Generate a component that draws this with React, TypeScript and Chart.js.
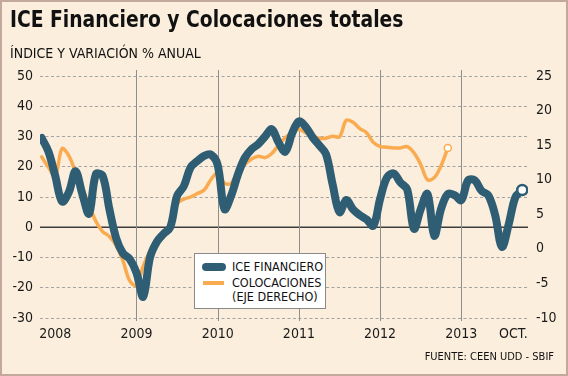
import React, { useEffect, useRef } from "react";
import { Chart, registerables } from "chart.js";

Chart.register(...registerables);

// Month index: 0 = Jan 2008. Series start in Nov 2007.
const startMonth = -2;

// ICE Financiero (índice, eje izquierdo)
const iceFinanciero = [
  29.5, 25, 17, 8.5, 11.5, 18.5, 11, 4.5, 17.5, 17, 6, -3.6, -8.6, -10.5, -15, -23,
  -10, -4.9, -2.2, 0, 10.3, 13.6, 19.8, 21.9, 23.6, 24, 20.6, 6, 10.5, 17.5, 22.9,
  25.8, 27.5, 30, 32.4, 28, 25, 31, 35, 33.2, 29.8, 27.1, 24.2, 14, 5, 9, 5.9, 4,
  2.6, 0.5, 9.4, 16.4, 17.8, 14.8, 12.5, -0.5, 6, 11, -2.8, 6, 11, 10.6, 9, 15.5,
  15.5, 12, 10.5, 4, -6.5, 1, 10, 12.3,
];

// Colocaciones totales (variación % anual, eje derecho)
const colocaciones = [
  13.3, 11.8, 10.5, 14.5, 13.5, 11.1, 8.8, 6.3, 4, 2.5, 1.8, 0.5, -1.7, -4.6, -5.3,
  -2.5, -0.4, 0.8, 1.7, 3.5, 6.5, 7.2, 7.5, 8, 8.5, 10, 11, 9.5, 9.5, 11.3, 12.2, 13,
  13.4, 13.2, 13.8, 15, 16.1, 16.8, 17.3, 16.8, 16.3, 16, 16, 16.3, 16.2, 18.6, 18.3,
  17.4, 16.8, 15.4, 14.8, 14.7, 14.6, 14.6, 14.8, 13.9, 12.2, 10, 10.3, 12, 14.6,
];

const xTickValues = [0, 12, 24, 36, 48, 60, 67.7];
const xTickLabels = ["2008", "2009", "2010", "2011", "2012", "2013", "OCT."];
const yearLineValues = [12, 24, 36, 48, 60];

const BLUE = "#2f5e74";
const ORANGE = "#fbab4f";
const BG = "#fbeedd";
const FONT = "'DejaVu Sans Condensed', 'DejaVu Sans', sans-serif";

const toPoints = (arr: number[]) => arr.map((v, i) => ({ x: startMonth + i, y: v }));

const zeroLine = {
  id: "zeroLine",
  beforeDatasetsDraw(chart: any) {
    const { ctx, chartArea } = chart;
    const y = chart.scales.y.getPixelForValue(0);
    ctx.save();
    ctx.strokeStyle = "#3c3c3c";
    ctx.lineWidth = 1.5;
    ctx.beginPath();
    ctx.moveTo(chartArea.left, y);
    ctx.lineTo(chartArea.right, y);
    ctx.stroke();
    ctx.restore();
  },
};

const yearLines = {
  id: "yearLines",
  beforeDatasetsDraw(chart: any) {
    const { ctx, chartArea } = chart;
    ctx.save();
    ctx.strokeStyle = "#8e8e8e";
    ctx.lineWidth = 1;
    yearLineValues.forEach((v) => {
      const x = Math.round(chart.scales.x.getPixelForValue(v)) + 0.5;
      ctx.beginPath();
      ctx.moveTo(x, chartArea.top - 6);
      ctx.lineTo(x, chartArea.bottom + 3);
      ctx.stroke();
    });
    ctx.restore();
  },
};

export default function App() {
  const canvasRef = useRef<HTMLCanvasElement | null>(null);

  useEffect(() => {
    document.body.style.margin = "0";
    const canvas = canvasRef.current;
    if (!canvas) return;
    const lastIce = iceFinanciero.length - 1;
    const lastCol = colocaciones.length - 1;
    const chart = new Chart(canvas, {
      type: "line",
      data: {
        datasets: [
          {
            label: "ICE FINANCIERO",
            data: toPoints(iceFinanciero),
            yAxisID: "y",
            borderColor: BLUE,
            borderWidth: 8,
            borderCapStyle: "round",
            borderJoinStyle: "round",
            tension: 0.35,
            pointRadius: (c: any) => (c.dataIndex === lastIce ? 5 : 0),
            pointBackgroundColor: "#ffffff",
            pointBorderColor: BLUE,
            pointBorderWidth: 2.5,
          },
          {
            label: "COLOCACIONES (EJE DERECHO)",
            data: toPoints(colocaciones),
            yAxisID: "y1",
            borderColor: ORANGE,
            borderWidth: 3.5,
            borderCapStyle: "round",
            borderJoinStyle: "round",
            tension: 0.35,
            pointRadius: (c: any) => (c.dataIndex === lastCol ? 3.5 : 0),
            pointBackgroundColor: "#ffffff",
            pointBorderColor: ORANGE,
            pointBorderWidth: 1.5,
          },
        ],
      },
      options: {
        animation: false,
        responsive: false,
        maintainAspectRatio: false,
        layout: { padding: { top: 76, left: 0, right: 0, bottom: 0 } },
        plugins: { legend: { display: false }, tooltip: { enabled: false } },
        scales: {
          x: {
            type: "linear",
            min: -2.25,
            max: 69.85,
            afterBuildTicks: (s: any) => {
              s.ticks = xTickValues.map((v) => ({ value: v }));
            },
            afterFit: (s: any) => {
              s.height = 376 - 318;
            },
            ticks: {
              autoSkip: false,
              maxRotation: 0,
              padding: 8,
              color: "#1a1a1a",
              font: { family: FONT, size: 14 },
              callback: (v: any) => {
                const i = xTickValues.indexOf(Number(v));
                return i >= 0 ? xTickLabels[i] : "";
              },
            },
            grid: { display: false, drawTicks: false },
            border: { display: false },
          },
          y: {
            position: "left",
            min: -30,
            max: 50,
            afterFit: (s: any) => {
              s.width = 40;
            },
            ticks: {
              stepSize: 10,
              padding: 7,
              color: "#1a1a1a",
              font: { family: FONT, size: 14 },
            },
            grid: { color: "#a3a3a3", lineWidth: 1, drawTicks: false },
            border: { display: false, dash: [3, 2.5] },
          },
          y1: {
            position: "right",
            min: -10,
            max: 25,
            afterFit: (s: any) => {
              s.width = 40;
            },
            ticks: {
              stepSize: 5,
              padding: 8,
              color: "#1a1a1a",
              font: { family: FONT, size: 14 },
            },
            grid: { drawOnChartArea: false, drawTicks: false },
            border: { display: false },
          },
        },
      },
      plugins: [zeroLine, yearLines],
    } as any);
    return () => chart.destroy();
  }, []);

  return (
    <div
      style={{
        position: "relative",
        width: 568,
        height: 376,
        background: BG,
        overflow: "hidden",
        fontFamily: FONT,
        color: "#111",
      }}
    >
      <canvas
        ref={canvasRef}
        width={568}
        height={376}
        style={{ position: "absolute", left: 0, top: 0, width: 568, height: 376 }}
      />
      <div
        style={{
          position: "absolute",
          left: 10,
          top: 5,
          fontSize: 23,
          fontWeight: "bold",
          whiteSpace: "nowrap",
          lineHeight: "28px",
          transform: "scaleX(0.905)",
          transformOrigin: "0 0",
        }}
      >
        ICE Financiero y Colocaciones totales
      </div>
      <div
        style={{
          position: "absolute",
          left: 10,
          top: 45,
          fontSize: 14,
          whiteSpace: "nowrap",
          lineHeight: "17px",
        }}
      >
        ÍNDICE Y VARIACIÓN % ANUAL
      </div>
      <div
        style={{
          position: "absolute",
          left: 194,
          top: 253,
          width: 132,
          height: 56,
          boxSizing: "border-box",
          background: "#ffffff",
          border: "1px solid #8a8a8a",
        }}
      >
        <div
          style={{
            position: "absolute",
            left: 7,
            top: 9,
            width: 24,
            height: 8,
            borderRadius: 4,
            background: BLUE,
          }}
        />
        <div
          style={{
            position: "absolute",
            left: 8,
            top: 27,
            width: 21,
            height: 4,
            background: ORANGE,
          }}
        />
        <div
          style={{
            position: "absolute",
            left: 37,
            top: 5,
            fontSize: 12.5,
            lineHeight: "15px",
            whiteSpace: "nowrap",
          }}
        >
          ICE FINANCIERO
        </div>
        <div
          style={{
            position: "absolute",
            left: 37,
            top: 22,
            fontSize: 12.5,
            lineHeight: "14px",
            whiteSpace: "nowrap",
          }}
        >
          COLOCACIONES
          <br />
          (EJE DERECHO)
        </div>
      </div>
      <div
        style={{
          position: "absolute",
          right: 14,
          top: 350,
          fontSize: 11,
          lineHeight: "13px",
          whiteSpace: "nowrap",
        }}
      >
        FUENTE: CEEN UDD - SBIF
      </div>
      <div
        style={{
          position: "absolute",
          left: 0,
          top: 0,
          width: 568,
          height: 376,
          boxSizing: "border-box",
          border: "2px solid #c3a99c",
          pointerEvents: "none",
        }}
      />
    </div>
  );
}
